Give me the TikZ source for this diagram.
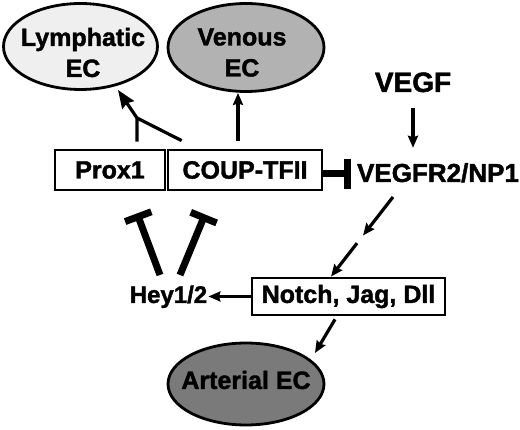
\documentclass[tikz,border=0pt]{standalone}
\usepackage{fontspec}
\setmainfont{Liberation Sans}[BoldFeatures={FakeBold=1.6}]
\usetikzlibrary{arrows.meta,shapes.geometric,calc}
\definecolor{lymfill}{HTML}{EFEFEF}
\definecolor{venfill}{HTML}{B2B2B2}
\definecolor{artfill}{HTML}{7A7A7A}
\begin{document}
\begin{tikzpicture}[x=1pt,y=-1pt,
  lbl/.style={font=\bfseries\fontsize{25}{31}\selectfont,inner sep=0pt,align=center},
  ell/.style={ellipse,draw=black,line width=2.8pt,inner sep=0pt},
  boxn/.style={draw=black,line width=2.8pt,inner sep=0pt,fill=white,font=\bfseries\fontsize{25}{30}\selectfont},
  ln/.style={line width=3.2pt},
  arr/.style={ln,-{Stealth[length=12pt,width=10pt,inset=1.5pt]}},
  bigarr/.style={ln,line join=miter,-{Stealth[length=18pt,width=14pt,inset=2pt]}},
  inh/.style={line width=7pt,-{Bar[width=30pt,line width=7pt]}}]
\fill[white] (0,0) rectangle (520,430);
\useasboundingbox (0,0) rectangle (520,430);

% ellipses
\node[ell,fill=lymfill,minimum width=154pt,minimum height=86pt] (lym) at (80.5,46.5) {};
\node[lbl] (lymtext) at (83,52.5) {Lymphatic\\EC};
\node[ell,fill=venfill,minimum width=156pt,minimum height=88pt] (ven) at (246,47.5) {};
\node[lbl] (ventext) at (242,52.5) {Venous\\EC};
\node[ell,fill=artfill,minimum width=156pt,minimum height=82pt] (art) at (246,384) {};
\node[lbl] (arttext) at (246,380) {Arterial EC};

% boxes
\node[boxn,minimum width=110pt,minimum height=40pt] (prox) at (110,170) {Prox1};
\node[boxn,minimum width=154pt,minimum height=40pt] (coup) at (245,170) {COUP-TFII};
\node[boxn,minimum width=193pt,minimum height=37pt] (notch) at (348.5,296.5) {Notch, Jag, Dll};

% free texts
\node[font=\bfseries\fontsize{28}{30}\selectfont,inner sep=0pt,text height=20pt,text depth=0pt,anchor=base] (vegf) at (413,92) {VEGF};
\node[font=\bfseries\fontsize{26}{30}\selectfont,inner sep=0pt,text height=19pt,text depth=0pt,anchor=base] (vegfr) at (438,182) {VEGFR2/NP1};
\node[font=\bfseries\fontsize{24}{26}\selectfont,inner sep=1pt,anchor=base] (hey) at (168.5,303) {Hey1/2};

% to lymphatic
\coordinate (jn) at (137,118);
\coordinate (lymtip) at (118,90);
\draw[ln] ([xshift=15pt,yshift=8pt]coup.north west) -- (jn);
\draw[bigarr] ([xshift=27pt,yshift=7pt]prox.north) -- (jn) -- (lymtip);

% to venous
\draw[arr] ([xshift=-7pt,yshift=8pt]coup.north) -- ([xshift=-8pt]ven.south);

% COUP-TFII inhibits VEGFR2
\draw[inh] ([yshift=-4pt]coup.east) -- ([xshift=-6pt,yshift=-4pt]coup.east -| vegfr.west);

% VEGF -> VEGFR2
\draw[arr,shorten <=16pt,shorten >=15pt] (vegf.south) -- (vegf.south |- vegfr.north);

% broken arrow VEGFR2 -> Notch
\coordinate (d0) at ([xshift=-45pt,yshift=-15pt]vegfr.base);
\coordinate (d3) at ([xshift=-17.5pt]notch.north);
\draw[arr] (d0) -- ($(d0)!0.484!(d3)$);
\draw[arr] ($(d0)!0.58!(d3)$) -- (d3);

% Notch -> Hey, Notch -> Arterial
\draw[arr] (notch.west) -- (notch.west -| hey.east);
\coordinate (arttip) at (315,353);
\draw[arr] ([xshift=-13.5pt,yshift=-3pt]notch.south) -- (arttip);

% Hey inhibits Prox1 and COUP-TFII
\draw[inh,-{Bar[width=28pt,line width=7pt]}] ([xshift=-8.5pt,yshift=28pt]hey.base) -- ([xshift=27pt,yshift=-22pt]prox.south);
\draw[inh,-{Bar[width=28pt,line width=7pt]}] ([xshift=11.5pt,yshift=28pt]hey.base) -- ([xshift=-40pt,yshift=-23pt]coup.south);
\end{tikzpicture}
\end{document}
